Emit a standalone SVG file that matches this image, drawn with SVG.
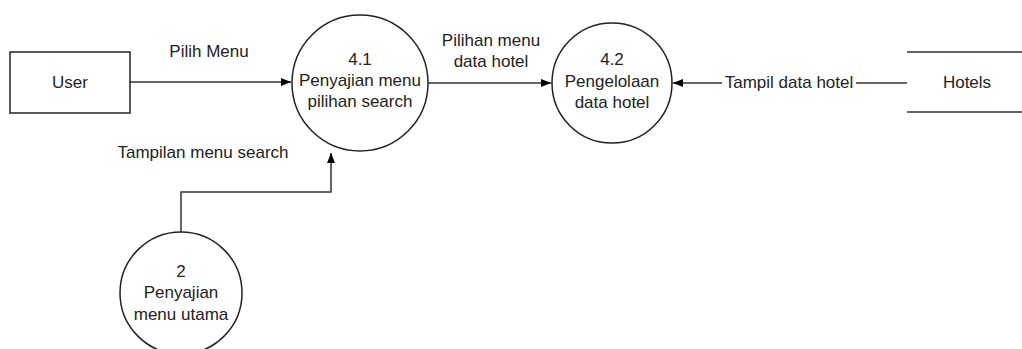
<svg xmlns="http://www.w3.org/2000/svg" width="1022" height="349" viewBox="0 0 1022 349">
<defs>
<marker id="arr" viewBox="0 0 10 8" refX="10" refY="4" markerWidth="10" markerHeight="8" markerUnits="userSpaceOnUse" orient="auto">
<path d="M0,0 L10,4 L0,8 Z" fill="#000"/>
</marker>
</defs>
<style>
text{font-family:"Liberation Sans",Arial,sans-serif;font-size:17px;fill:#222;text-anchor:middle}
.shape{fill:#fff;stroke:#222;stroke-width:1.5}
.conn{fill:none;stroke:#333;stroke-width:1.5}
</style>
<rect width="1022" height="349" fill="#fff"/>
<g id="connectors">
<path class="conn" d="M130,82 L291,82" marker-end="url(#arr)"/>
<path class="conn" d="M428,83 L551,83" marker-end="url(#arr)"/>
<path class="conn" d="M907,83 L856,83"/>
<path class="conn" d="M722,83 L673,83" marker-end="url(#arr)"/>
<path class="conn" d="M181,232 L181,192 L331,192 L331,153" marker-end="url(#arr)"/>
<text x="209" y="57">Pilih Menu</text>
<text x="491" y="46">Pilihan menu</text>
<text x="491" y="67">data hotel</text>
<text x="789" y="88">Tampil data hotel</text>
<text x="203" y="158">Tampilan menu search</text>
</g>
<g id="user">
<rect class="shape" x="10" y="52" width="120" height="61"/>
<text x="70" y="88">User</text>
</g>
<g id="p41">
<circle class="shape" cx="360" cy="83" r="68"/>
<text x="360" y="65">4.1</text>
<text x="360" y="86">Penyajian menu</text>
<text x="360" y="107">pilihan search</text>
</g>
<g id="p42">
<circle class="shape" cx="612" cy="83" r="60"/>
<text x="612" y="65">4.2</text>
<text x="612" y="87">Pengelolaan</text>
<text x="612" y="108">data hotel</text>
</g>
<g id="hotels">
<line class="conn" x1="907" y1="52" x2="1022" y2="52"/>
<line class="conn" x1="907" y1="112" x2="1022" y2="112"/>
<text x="967" y="88">Hotels</text>
</g>
<g id="p2">
<circle class="shape" cx="181" cy="293" r="61"/>
<text x="181" y="277">2</text>
<text x="181" y="298">Penyajian</text>
<text x="181" y="320">menu utama</text>
</g>
</svg>
